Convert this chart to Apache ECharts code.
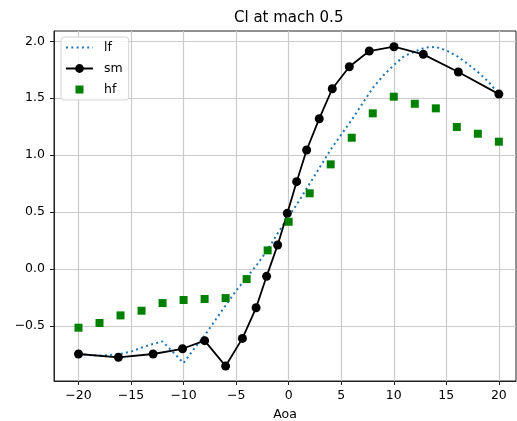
<!DOCTYPE html>
<html>
<head>
<meta charset="utf-8">
<script src="https://cdn.jsdelivr.net/npm/echarts@6/dist/echarts.min.js"></script>
<style>
html,body{margin:0;padding:0;background:#fff;}
#chart{width:517px;height:421px;}
</style>
</head>
<body>
<div id="chart"></div>
<script>
// ---- data ----
const lfX = [-20,-19,-18,-17,-16,-15,-14,-13,-12,-11,-10,-9,-8,-7,-6,-5,-4,-3,-2,-1,0,1,2,3,4,5,6,7,8,9,10,11,12,13,14,15,16,17,18,19,20];
const lfY = [-0.746,-0.755,-0.76,-0.755,-0.745,-0.725,-0.69,-0.66,-0.635,-0.73,-0.825,-0.70,-0.585,-0.45,-0.32,-0.19,-0.075,0.04,0.17,0.32,0.46,0.60,0.75,0.90,1.05,1.18,1.31,1.45,1.59,1.70,1.79,1.87,1.91,1.945,1.95,1.92,1.87,1.805,1.73,1.645,1.536];

const smX = [-20,-16.2,-12.9,-10.1,-8.0,-6.0,-4.4,-3.1,-2.1,-1.05,-0.13,0.76,1.71,2.91,4.15,5.77,7.67,10.02,12.81,16.14,20];
const smY = [-0.746,-0.775,-0.746,-0.70,-0.629,-0.852,-0.609,-0.34,-0.064,0.211,0.489,0.767,1.045,1.32,1.583,1.776,1.914,1.952,1.885,1.73,1.536];

const hfX = [-20,-18,-16,-14,-12,-10,-8,-6,-4,-2,0,2,4,6,8,10,12,14,16,18,20];
const hfY = [-0.515,-0.474,-0.407,-0.366,-0.299,-0.272,-0.263,-0.255,-0.088,0.164,0.415,0.665,0.919,1.153,1.367,1.513,1.451,1.411,1.247,1.188,1.118];

const xTicks = [-20,-15,-10,-5,0,5,10,15,20];
const yTicks = [-0.5,0,0.5,1.0,1.5,2.0];

const seriesNames = ['lf','sm','hf'];
const titleText = 'Cl at mach 0.5';
const xName = 'Aoa';

// ---- chart ----
const FONT = 'DejaVu Sans';
const minus = s => s.replace('-', '\u2212');
const pair = (xs, ys) => xs.map((x, i) => [x, ys[i]]);

const chart = echarts.init(document.getElementById('chart'), null, {renderer: 'canvas'});
chart.setOption({
  animation: false,
  backgroundColor: '#ffffff',
  title: {
    text: titleText,
    left: 229,
    top: 6,
    textStyle: {fontFamily: FONT, fontSize: 15, fontWeight: 'normal', color: '#000'}
  },
  grid: {
    left: 54, right: 1, top: 31, bottom: 40,
    outerBoundsMode: 'none', containLabel: false,
    show: true, borderColor: '#222', borderWidth: 1, backgroundColor: 'transparent'
  },
  legend: {
    orient: 'vertical',
    left: 61, top: 37,
    data: [
      {name: seriesNames[0], itemStyle: {color: 'rgba(0,0,0,0)', borderColor: 'rgba(0,0,0,0)', borderWidth: 0, opacity: 0}},
      {name: seriesNames[1]},
      {name: seriesNames[2], icon: 'path://M0,0 L0,0 M27,11 L27,11 M9.5,1.5 L17.5,1.5 L17.5,9.5 L9.5,9.5 Z'}
    ],
    itemWidth: 27, itemHeight: 11, itemGap: 8,
    padding: [4, 6, 4, 4],
    backgroundColor: 'rgba(255,255,255,0.85)',
    borderColor: '#d4d4d4', borderWidth: 1, borderRadius: 3,
    textStyle: {fontFamily: FONT, fontSize: 12.5, lineHeight: 11, color: '#000', padding: [0, 0, 0, 6]}
  },
  xAxis: {
    type: 'value',
    min: -22.33, max: 21.63,
    name: xName, nameLocation: 'middle', nameGap: 27,
    nameTextStyle: {fontFamily: FONT, fontSize: 12.5, color: '#000'},
    axisLine: {show: true, onZero: false, lineStyle: {color: '#222', width: 1}},
    axisTick: {show: true, inside: false, length: 4, customValues: xTicks, lineStyle: {color: '#222', width: 1}},
    axisLabel: {customValues: xTicks, margin: 8, fontFamily: FONT, fontSize: 12.5, color: '#000',
      formatter: v => minus(String(v))},
    splitLine: {show: true, lineStyle: {color: '#cbcbcb', width: 1.2}}
  },
  yAxis: {
    type: 'value',
    min: -0.983, max: 2.09,
    axisLine: {show: true, onZero: false, lineStyle: {color: '#222', width: 1}},
    axisTick: {show: true, inside: false, length: 4, customValues: yTicks, lineStyle: {color: '#222', width: 1}},
    axisLabel: {customValues: yTicks, margin: 9, fontFamily: FONT, fontSize: 12.5, color: '#000',
      formatter: v => minus(v.toFixed(1))},
    splitLine: {show: true, lineStyle: {color: '#cbcbcb', width: 1.2}}
  },
  series: [
    {
      name: seriesNames[0], type: 'line',
      data: pair(lfX, lfY),
      symbol: 'none', smooth: false,
      lineStyle: {color: '#1f77b4', width: 2, type: [2, 3.3], cap: 'butt'},
      itemStyle: {color: '#1f77b4'},
      z: 2
    },
    {
      name: seriesNames[1], type: 'line',
      data: pair(smX, smY),
      symbol: 'circle', symbolSize: 9, showSymbol: true,
      lineStyle: {color: '#000', width: 1.8},
      itemStyle: {color: '#000'},
      z: 3
    },
    {
      name: seriesNames[2], type: 'scatter',
      data: pair(hfX, hfY),
      symbol: 'rect', symbolSize: 8,
      itemStyle: {color: '#008000', opacity: 1},
      z: 4
    }
  ]
});
</script>
</body>
</html>
